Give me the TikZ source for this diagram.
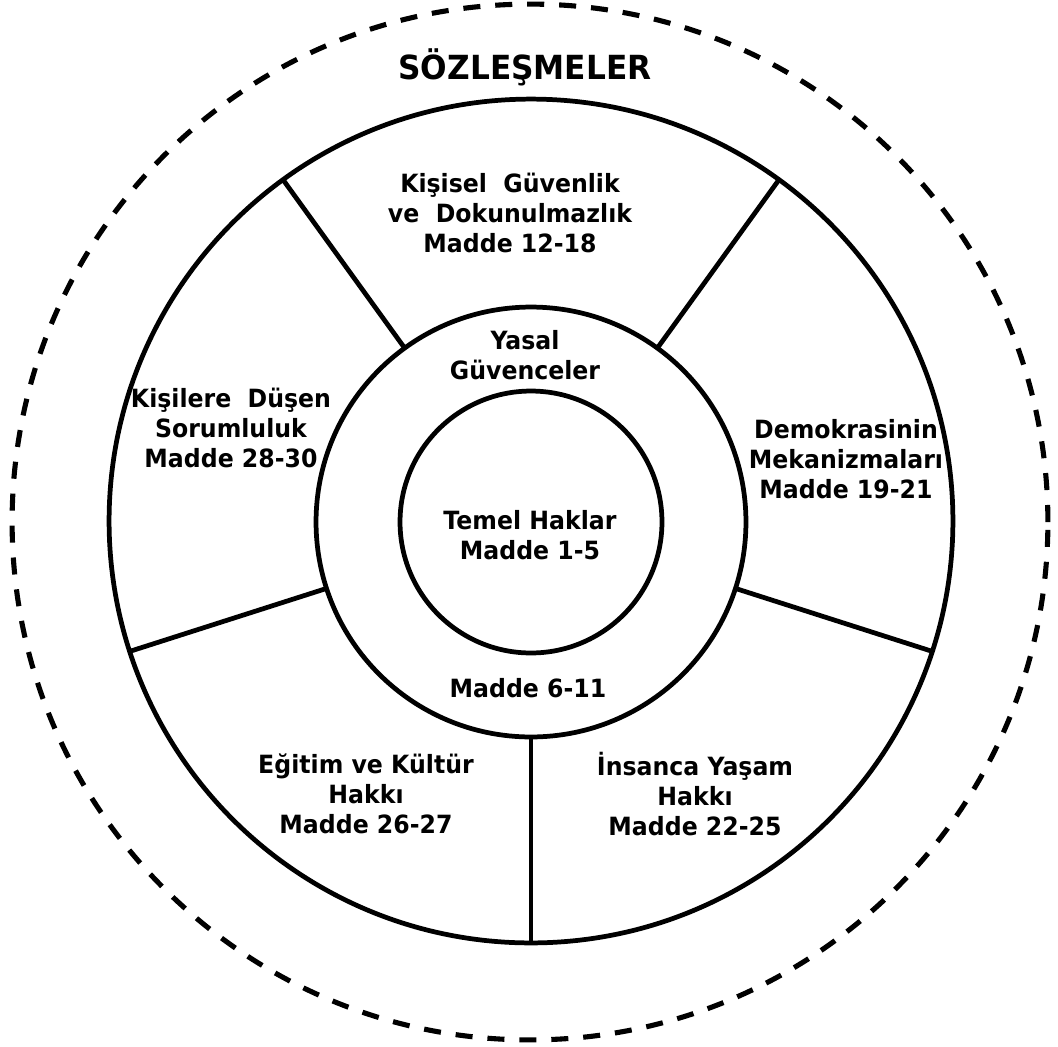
\documentclass[tikz,border=0pt]{standalone}
\usepackage{fontspec}
\setmainfont{DejaVu Sans}[FakeStretch=0.94]
\usetikzlibrary{shapes}

\begin{document}
\begin{tikzpicture}[x=0.02cm, y=-0.02cm, line width=2.7pt,
		ring/.style={circle, draw, outer sep=0pt, inner sep=0pt},
		yazi/.style={align=center, inner sep=0pt, font=\fontsize{14.3}{16.9}\selectfont\bfseries}]
			\useasboundingbox (0, 0) rectangle (1058, 1046);

			\node[ring, line width=2.9pt, dash pattern=on 9.7pt off 8.5pt, minimum size=20.72cm]	(sozlesme)	at (530, 522)	{};
			\node[ring, minimum size=16.88cm]	(dis)	at (531, 521)	{};
			\node[ring, minimum size=8.6cm]		(orta)	at (531, 522)	{};
			\node[ring, minimum size=5.24cm]	(ic)	at (531, 522)	{};

			\foreach \a in {54, 126, 198, 270, 342}
				\draw (orta.\a) -- (dis.\a);

			\node[font=\fontsize{18.9}{22}\selectfont\bfseries]	(baslik)	at (525, 67)	{SÖZLEŞMELER};
			\node[yazi]	(guvenlik)	at (510, 213)	{Kişisel\ \ Güvenlik\\ve\ \ Dokunulmazlık\\Madde 12-18};
			\node[yazi]	(yasal)		at (525, 355)	{Yasal\\Güvenceler};
			\node[yazi]	(sorumluluk)	at (231, 428)	{Kişilere\ \ Düşen\\Sorumluluk\\Madde 28-30};
			\node[yazi]	(demokrasi)	at (846, 459)	{Demokrasinin\\Mekanizmaları\\Madde 19-21};
			\node[yazi]	(temel)		at (530, 535)	{Temel Haklar\\Madde 1-5};
			\node[yazi]	(madde)		at (528, 688)	{Madde 6-11};
			\node[yazi]	(egitim)	at (366, 794)	{Eğitim ve Kültür\\Hakkı\\Madde 26-27};
			\node[yazi]	(insanca)	at (695, 794)	{İnsanca Yaşam\\Hakkı\\Madde 22-25};
		\end{tikzpicture}
\end{document}
